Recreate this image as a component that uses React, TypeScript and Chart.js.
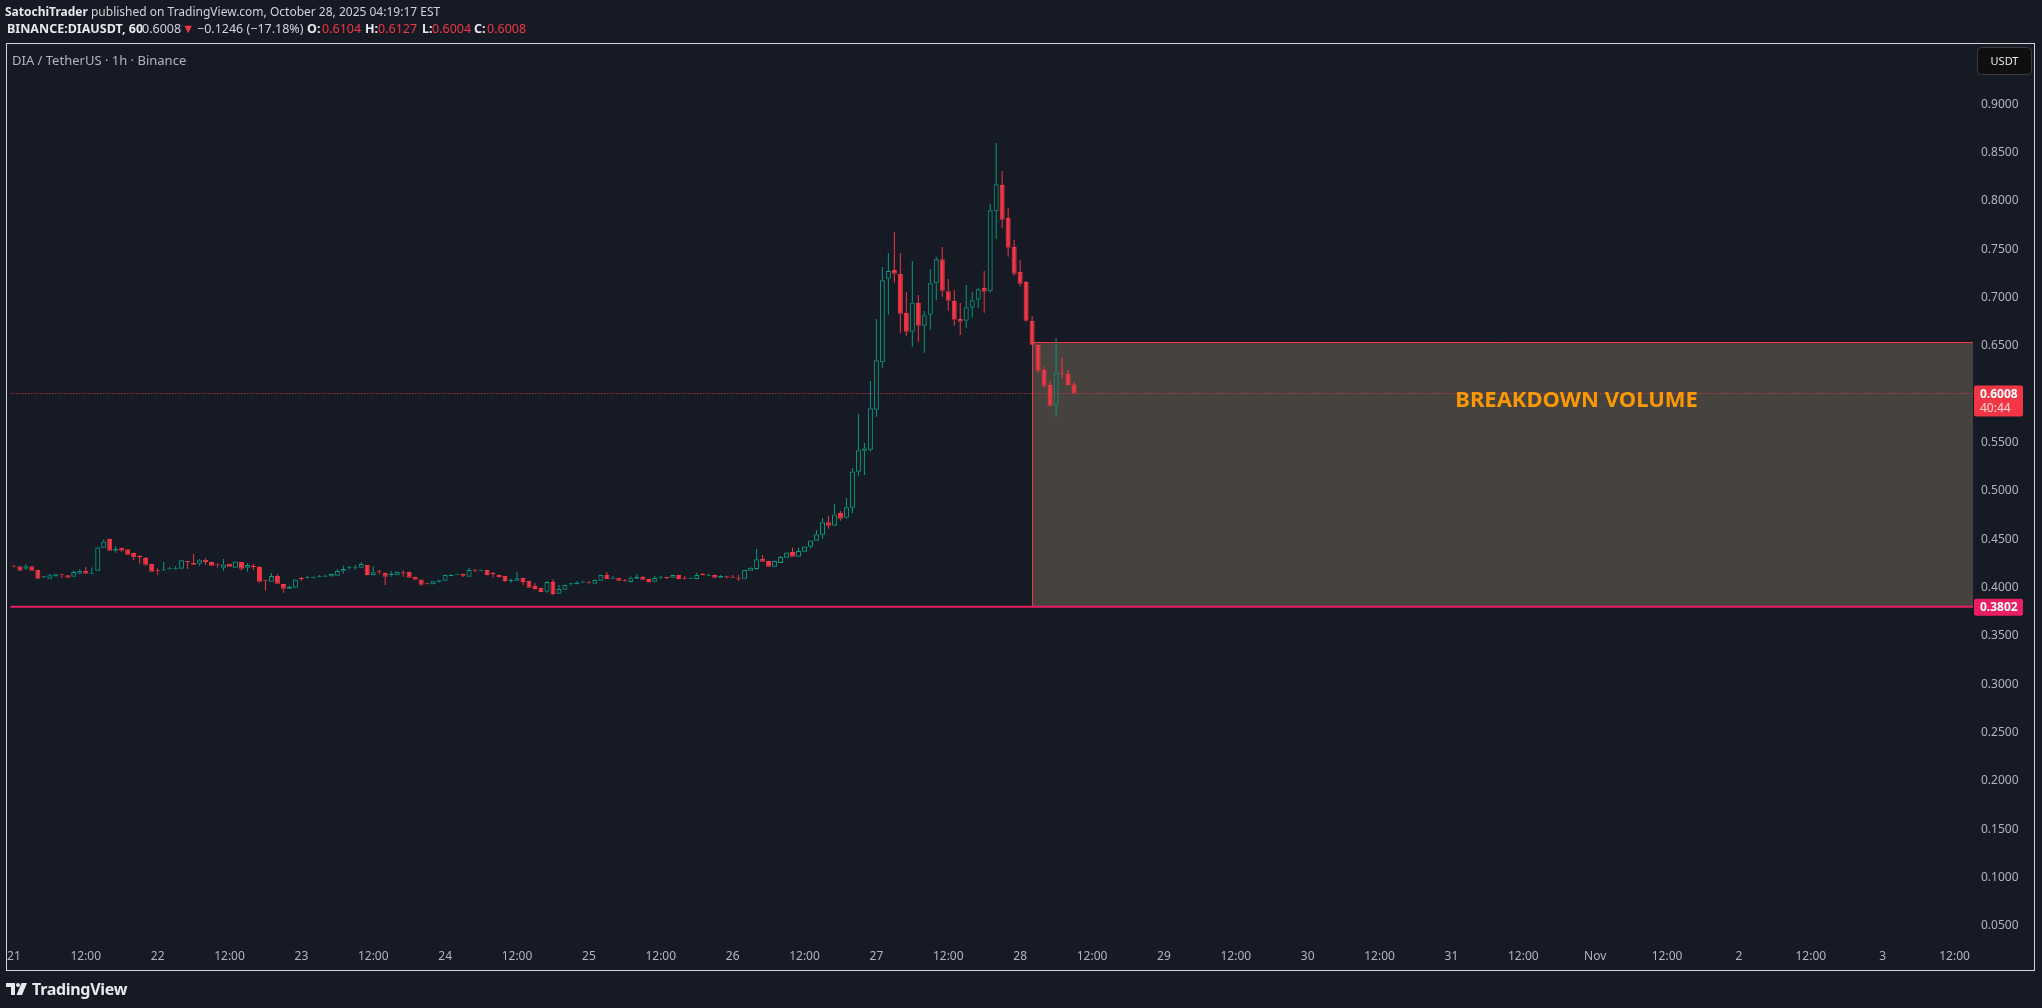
import React, { useEffect, useRef } from 'react';
import { Chart, registerables } from 'chart.js';

Chart.register(...registerables);

// ---- Data: DIA/USDT 1h candles, hour 0 = Oct 21 00:00 (UTC) ----
const opens = [
  0.4221, 0.4220, 0.4196, 0.4220, 0.4182, 0.4106, 0.4092, 0.4116, 0.4137, 0.4127,
  0.4113, 0.4147, 0.4171, 0.4144, 0.4175, 0.4413, 0.4502, 0.4382, 0.4409, 0.4396,
  0.4358, 0.4327, 0.4306, 0.4244, 0.4175, 0.4178, 0.4189, 0.4196, 0.4196, 0.4271,
  0.4254, 0.4247, 0.4289, 0.4265, 0.4237, 0.4206, 0.4247, 0.4206, 0.4265, 0.4206,
  0.4220, 0.4213, 0.4078, 0.4061, 0.4120, 0.4037, 0.3989, 0.3999, 0.4096, 0.4096,
  0.4096, 0.4106, 0.4113, 0.4116, 0.4123, 0.4175, 0.4199, 0.4206, 0.4206, 0.4233,
  0.4127, 0.4165, 0.4151, 0.4127, 0.4127, 0.4158, 0.4161, 0.4109, 0.4085, 0.4040,
  0.4034, 0.4061, 0.4071, 0.4120, 0.4134, 0.4144, 0.4113, 0.4182, 0.4175, 0.4182,
  0.4147, 0.4130, 0.4120, 0.4068, 0.4071, 0.4099, 0.4068, 0.4016, 0.3996, 0.3958,
  0.4058, 0.3937, 0.3978, 0.4034, 0.4034, 0.4054, 0.4051, 0.4040, 0.4071, 0.4130,
  0.4092, 0.4103, 0.4078, 0.4058, 0.4092, 0.4109, 0.4089, 0.4061, 0.4103, 0.4106,
  0.4103, 0.4130, 0.4099, 0.4092, 0.4089, 0.4137, 0.4123, 0.4130, 0.4103, 0.4113,
  0.4109, 0.4099, 0.4092, 0.4175, 0.4192, 0.4296, 0.4275, 0.4216, 0.4254, 0.4309,
  0.4368, 0.4319, 0.4371, 0.4423, 0.4485, 0.4547, 0.4675, 0.4640, 0.4771, 0.4723,
  0.4827, 0.5199, 0.5416, 0.5426, 0.5840, 0.6330, 0.7195, 0.7285, 0.7244, 0.6840,
  0.6647, 0.6944, 0.6709, 0.6823, 0.7147, 0.7395, 0.7064, 0.6964, 0.6778, 0.6761,
  0.6895, 0.6978, 0.7099, 0.7064, 0.7892, 0.8164, 0.7823, 0.7523, 0.7264, 0.7161,
  0.6757, 0.6509, 0.6250, 0.6095, 0.5881, 0.6219, 0.6209, 0.6104,
];
const highs = [
  0.4230, 0.4222, 0.4244, 0.4223, 0.4185, 0.4120, 0.4140, 0.4142, 0.4138, 0.4129,
  0.4178, 0.4189, 0.4213, 0.4209, 0.4423, 0.4499, 0.4504, 0.4427, 0.4411, 0.4398,
  0.4360, 0.4337, 0.4316, 0.4246, 0.4199, 0.4265, 0.4213, 0.4223, 0.4285, 0.4273,
  0.4347, 0.4296, 0.4306, 0.4267, 0.4247, 0.4296, 0.4249, 0.4274, 0.4267, 0.4254,
  0.4244, 0.4223, 0.4080, 0.4151, 0.4137, 0.4039, 0.4023, 0.4088, 0.4113, 0.4120,
  0.4116, 0.4130, 0.4134, 0.4143, 0.4192, 0.4227, 0.4223, 0.4233, 0.4265, 0.4235,
  0.4223, 0.4182, 0.4153, 0.4171, 0.4165, 0.4178, 0.4163, 0.4111, 0.4087, 0.4047,
  0.4067, 0.4077, 0.4133, 0.4140, 0.4145, 0.4146, 0.4202, 0.4192, 0.4185, 0.4184,
  0.4161, 0.4132, 0.4122, 0.4092, 0.4161, 0.4101, 0.4070, 0.4047, 0.3998, 0.4062,
  0.4085, 0.4027, 0.4030, 0.4051, 0.4068, 0.4071, 0.4068, 0.4080, 0.4133, 0.4161,
  0.4120, 0.4105, 0.4089, 0.4116, 0.4140, 0.4120, 0.4091, 0.4120, 0.4123, 0.4108,
  0.4132, 0.4132, 0.4120, 0.4105, 0.4154, 0.4154, 0.4144, 0.4132, 0.4130, 0.4123,
  0.4130, 0.4130, 0.4185, 0.4216, 0.4399, 0.4337, 0.4277, 0.4277, 0.4327, 0.4367,
  0.4412, 0.4412, 0.4428, 0.4490, 0.4596, 0.4720, 0.4740, 0.4864, 0.4792, 0.4926,
  0.5237, 0.5795, 0.5495, 0.6137, 0.6778, 0.7316, 0.7461, 0.7678, 0.7461, 0.7057,
  0.7378, 0.7026, 0.6861, 0.7295, 0.7423, 0.7523, 0.7192, 0.7078, 0.6944, 0.7130,
  0.7057, 0.7102, 0.7275, 0.7968, 0.8599, 0.8309, 0.7926, 0.7595, 0.7388, 0.7170,
  0.6809, 0.6515, 0.6282, 0.6137, 0.6581, 0.6375, 0.6250, 0.6127,
];
const lows = [
  0.4209, 0.4172, 0.4185, 0.4173, 0.4090, 0.4096, 0.4090, 0.4113, 0.4103, 0.4101,
  0.4110, 0.4134, 0.4142, 0.4142, 0.4172, 0.4410, 0.4380, 0.4361, 0.4371, 0.4338,
  0.4282, 0.4247, 0.4227, 0.4163, 0.4134, 0.4175, 0.4187, 0.4185, 0.4194, 0.4192,
  0.4235, 0.4227, 0.4237, 0.4225, 0.4209, 0.4175, 0.4214, 0.4204, 0.4178, 0.4165,
  0.4185, 0.4051, 0.3968, 0.4058, 0.4038, 0.3947, 0.3987, 0.3997, 0.4068, 0.4094,
  0.4094, 0.4104, 0.4111, 0.4114, 0.4121, 0.4144, 0.4185, 0.4185, 0.4204, 0.4128,
  0.4125, 0.4137, 0.4027, 0.4113, 0.4125, 0.4113, 0.4101, 0.4080, 0.4020, 0.4032,
  0.4032, 0.4051, 0.4069, 0.4118, 0.4132, 0.4109, 0.4111, 0.4161, 0.4170, 0.4128,
  0.4103, 0.4107, 0.4058, 0.4047, 0.4069, 0.4027, 0.3997, 0.3983, 0.3952, 0.3947,
  0.3923, 0.3935, 0.3976, 0.4020, 0.4032, 0.4044, 0.4042, 0.4038, 0.4069, 0.4087,
  0.4090, 0.4069, 0.4061, 0.4056, 0.4090, 0.4080, 0.4056, 0.4059, 0.4089, 0.4089,
  0.4101, 0.4087, 0.4085, 0.4090, 0.4087, 0.4128, 0.4121, 0.4101, 0.4101, 0.4092,
  0.4101, 0.4068, 0.4090, 0.4173, 0.4185, 0.4266, 0.4214, 0.4214, 0.4252, 0.4305,
  0.4317, 0.4317, 0.4369, 0.4402, 0.4483, 0.4506, 0.4609, 0.4638, 0.4692, 0.4713,
  0.4768, 0.5157, 0.5164, 0.5405, 0.5768, 0.6275, 0.6823, 0.7154, 0.6630, 0.6606,
  0.6492, 0.6543, 0.6430, 0.6668, 0.6975, 0.7009, 0.6864, 0.6709, 0.6612, 0.6688,
  0.6792, 0.6895, 0.6844, 0.7050, 0.7609, 0.7723, 0.7423, 0.7226, 0.7113, 0.6750,
  0.6505, 0.6223, 0.6068, 0.5870, 0.5768, 0.6161, 0.6090, 0.6004,
];
const closes = [
  0.4218, 0.4175, 0.4220, 0.4175, 0.4092, 0.4110, 0.4127, 0.4137, 0.4134, 0.4103,
  0.4161, 0.4175, 0.4144, 0.4151, 0.4416, 0.4478, 0.4382, 0.4399, 0.4382, 0.4340,
  0.4313, 0.4316, 0.4237, 0.4165, 0.4168, 0.4182, 0.4196, 0.4206, 0.4282, 0.4265,
  0.4237, 0.4282, 0.4265, 0.4227, 0.4230, 0.4240, 0.4216, 0.4271, 0.4196, 0.4233,
  0.4213, 0.4061, 0.4071, 0.4120, 0.4040, 0.3989, 0.4009, 0.4085, 0.4089, 0.4103,
  0.4103, 0.4113, 0.4120, 0.4140, 0.4171, 0.4192, 0.4206, 0.4216, 0.4244, 0.4130,
  0.4158, 0.4158, 0.4113, 0.4147, 0.4161, 0.4147, 0.4103, 0.4082, 0.4030, 0.4034,
  0.4065, 0.4075, 0.4130, 0.4127, 0.4140, 0.4123, 0.4182, 0.4175, 0.4178, 0.4130,
  0.4140, 0.4109, 0.4068, 0.4075, 0.4096, 0.4058, 0.3999, 0.3985, 0.3954, 0.4058,
  0.3934, 0.3985, 0.4027, 0.4040, 0.4054, 0.4061, 0.4044, 0.4078, 0.4130, 0.4089,
  0.4099, 0.4071, 0.4071, 0.4096, 0.4109, 0.4082, 0.4058, 0.4099, 0.4109, 0.4099,
  0.4130, 0.4089, 0.4092, 0.4099, 0.4130, 0.4130, 0.4130, 0.4103, 0.4120, 0.4106,
  0.4103, 0.4092, 0.4182, 0.4206, 0.4292, 0.4268, 0.4216, 0.4275, 0.4316, 0.4364,
  0.4319, 0.4378, 0.4426, 0.4488, 0.4551, 0.4675, 0.4640, 0.4757, 0.4713, 0.4830,
  0.5202, 0.5420, 0.5440, 0.5854, 0.6351, 0.7178, 0.7274, 0.7247, 0.6833, 0.6647,
  0.6950, 0.6709, 0.6816, 0.7147, 0.7395, 0.7071, 0.6968, 0.6771, 0.6750, 0.6899,
  0.6971, 0.7085, 0.7061, 0.7902, 0.8171, 0.7806, 0.7516, 0.7247, 0.7144, 0.6761,
  0.6513, 0.6244, 0.6088, 0.5881, 0.6226, 0.6212, 0.6095, 0.6008,
];
const hours = opens.map((_, i) => i);

const timeTickHours = [0, 12, 24, 36, 48, 60, 72, 84, 96, 108, 120, 132, 144, 156, 168, 180, 192, 204, 216, 228, 240, 252, 264, 276, 288, 300, 312, 324];
const timeTickLabels = ['21', '12:00', '22', '12:00', '23', '12:00', '24', '12:00', '25', '12:00', '26', '12:00', '27', '12:00', '28', '12:00', '29', '12:00', '30', '12:00', '31', '12:00', 'Nov', '12:00', '2', '12:00', '3', '12:00'];
const priceTicks = [0.05, 0.1, 0.15, 0.2, 0.25, 0.3, 0.35, 0.4, 0.45, 0.5, 0.55, 0.6, 0.65, 0.7, 0.75, 0.8, 0.85, 0.9];

const lastPrice = 0.6008;
const countdown = '40:44';
const supportPrice = 0.3802;
const zoneStartHour = 170;
const zoneTop = 0.6537;
const zoneBottom = 0.3802;
const zoneLabel = 'BREAKDOWN VOLUME';
const zoneLabelHour = 260.9;
const zoneLabelPrice = 0.5935;

// ---- Styles ----
const BG = '#161A25';
const UP = '#089981';
const DOWN = '#F23645';
const SUPPORT = '#E91E63';
const ZONE_FILL = '#46433F';
const AXIS_TXT = '#B2B5BE';
const FONT = "'Noto Sans', 'Liberation Sans', sans-serif";

const isUp = (i: number) => closes[i] >= opens[i];

const overlayPlugin = {
  id: 'tvOverlay',
  beforeDraw(chart: any) {
    const { ctx, width, height } = chart;
    ctx.save();
    ctx.fillStyle = BG;
    ctx.fillRect(0, 0, width, height);
    ctx.restore();
  },
  beforeDatasetsDraw(chart: any) {
    const { ctx, chartArea: a, scales } = chart;
    const x0 = Math.round(scales.x.getPixelForValue(zoneStartHour)) + 0.5;
    const yT = Math.round(scales.y.getPixelForValue(zoneTop)) + 0.5;
    const yB = scales.y.getPixelForValue(zoneBottom);
    ctx.save();
    ctx.beginPath();
    ctx.rect(a.left, a.top, a.right - a.left, a.bottom - a.top);
    ctx.clip();
    ctx.fillStyle = ZONE_FILL;
    ctx.fillRect(x0, yT, a.right - x0, yB - yT);
    ctx.strokeStyle = DOWN;
    ctx.lineWidth = 1;
    ctx.beginPath();
    ctx.moveTo(x0, yB);
    ctx.lineTo(x0, yT);
    ctx.lineTo(a.right, yT);
    ctx.stroke();
    // last price dotted line
    const yL = Math.round(scales.y.getPixelForValue(lastPrice)) + 0.5;
    ctx.setLineDash([1, 2]);
    ctx.strokeStyle = DOWN;
    ctx.beginPath();
    ctx.moveTo(a.left, yL);
    ctx.lineTo(a.right, yL);
    ctx.stroke();
    ctx.setLineDash([]);
    // zone label
    ctx.fillStyle = '#FF9800';
    ctx.font = `bold 22px ${FONT}`;
    ctx.textAlign = 'center';
    ctx.textBaseline = 'middle';
    ctx.fillText(zoneLabel, scales.x.getPixelForValue(zoneLabelHour), scales.y.getPixelForValue(zoneLabelPrice));
    ctx.restore();
  },
  afterDatasetsDraw(chart: any) {
    const { ctx, chartArea: a, scales } = chart;
    const yS = scales.y.getPixelForValue(supportPrice);
    ctx.save();
    ctx.strokeStyle = SUPPORT;
    ctx.lineWidth = 2;
    ctx.beginPath();
    ctx.moveTo(a.left, yS);
    ctx.lineTo(a.right, yS);
    ctx.stroke();
    ctx.restore();
  },
  afterDraw(chart: any) {
    const { ctx, chartArea: a, scales } = chart;
    ctx.save();
    const bx = a.right + 1;
    const bw = 49;
    // last price label
    const yL = scales.y.getPixelForValue(lastPrice);
    ctx.fillStyle = DOWN;
    ctx.beginPath();
    (ctx as any).roundRect(bx, yL - 8, bw, 31, 2);
    ctx.fill();
    ctx.fillStyle = '#FFFFFF';
    ctx.font = `bold 12px ${FONT}`;
    ctx.textAlign = 'left';
    ctx.textBaseline = 'middle';
    ctx.fillText(lastPrice.toFixed(4), bx + 6, yL + 1);
    ctx.fillStyle = 'rgba(255,255,255,0.8)';
    ctx.font = `12px ${FONT}`;
    ctx.fillText(countdown, bx + 6, yL + 15);
    // support label
    const yS = scales.y.getPixelForValue(supportPrice);
    ctx.fillStyle = SUPPORT;
    ctx.beginPath();
    (ctx as any).roundRect(bx, yS - 8, bw, 17, 2);
    ctx.fill();
    ctx.fillStyle = '#FFFFFF';
    ctx.font = `bold 12px ${FONT}`;
    ctx.fillText(supportPrice.toFixed(4), bx + 6, yS + 1);
    // USDT button
    ctx.fillStyle = '#0F0F0F';
    ctx.strokeStyle = '#3A3C42';
    ctx.lineWidth = 1;
    ctx.beginPath();
    (ctx as any).roundRect(1977.5, 47.5, 54, 27, 4);
    ctx.fill();
    ctx.stroke();
    ctx.fillStyle = '#E6E8EE';
    ctx.font = `11px ${FONT}`;
    ctx.textAlign = 'center';
    ctx.fillText('USDT', 2004.5, 61.5);
    // frame
    ctx.strokeStyle = '#D1D4DC';
    ctx.lineWidth = 1;
    ctx.strokeRect(6.5, 43.5, 2028, 927);
    ctx.restore();
  },
};

const headerParts: { text: string; left: number; kind: 'bold' | 'plain' | 'red' }[] = [
  { text: 'BINANCE:DIAUSDT, 60', left: 7, kind: 'bold' },
  { text: '0.6008', left: 142, kind: 'plain' },
  { text: '▼', left: 182, kind: 'red' },
  { text: '−0.1246 (−17.18%)', left: 197, kind: 'plain' },
  { text: 'O:', left: 307, kind: 'bold' },
  { text: '0.6104', left: 322, kind: 'red' },
  { text: 'H:', left: 365, kind: 'bold' },
  { text: '0.6127', left: 378, kind: 'red' },
  { text: 'L:', left: 422, kind: 'bold' },
  { text: '0.6004', left: 432, kind: 'red' },
  { text: 'C:', left: 474, kind: 'bold' },
  { text: '0.6008', left: 487, kind: 'red' },
];

export default function App() {
  const canvasRef = useRef<HTMLCanvasElement | null>(null);

  useEffect(() => {
    if (!canvasRef.current) return;
    const bodyData = hours.map((h, i) => ({ x: h, y: [opens[i], closes[i]] }));
    const upperWick = hours.map((h, i) => ({ x: h, y: [Math.max(opens[i], closes[i]), highs[i]] }));
    const lowerWick = hours.map((h, i) => ({ x: h, y: [lows[i], Math.min(opens[i], closes[i])] }));
    const colors = hours.map((_, i) => (isUp(i) ? UP : DOWN));

    const chart = new Chart(canvasRef.current, {
      type: 'bar',
      data: {
        datasets: [
          {
            data: bodyData as any,
            backgroundColor: hours.map((_, i) => (isUp(i) ? 'rgba(0,0,0,0)' : DOWN)),
            borderColor: colors,
            borderWidth: 1,
            borderSkipped: false,
            barThickness: 5,
            minBarLength: 1,
            grouped: false,
            inflateAmount: 0,
          } as any,
          {
            data: upperWick as any,
            backgroundColor: colors,
            borderWidth: 0,
            barThickness: 1,
            grouped: false,
            inflateAmount: 0,
          } as any,
          {
            data: lowerWick as any,
            backgroundColor: colors,
            borderWidth: 0,
            barThickness: 1,
            grouped: false,
            inflateAmount: 0,
          } as any,
        ],
      },
      options: {
        responsive: false,
        animation: false,
        events: [],
        layout: { padding: { left: 7, top: 44, right: 0, bottom: 0 } },
        plugins: { legend: { display: false }, tooltip: { enabled: false } },
        scales: {
          x: {
            type: 'linear',
            offset: false,
            min: -0.58333,
            max: 327.0833,
            grid: { display: false, drawTicks: false },
            border: { display: false },
            afterBuildTicks: (scale: any) => {
              scale.ticks = timeTickHours.map((v) => ({ value: v }));
            },
            afterFit: (scale: any) => {
              scale.height = 66;
            },
            ticks: {
              autoSkip: false,
              maxRotation: 0,
              minRotation: 0,
              padding: 7,
              color: AXIS_TXT,
              font: { family: FONT, size: 12 },
              callback: (_v: any, idx: number) => timeTickLabels[idx],
            },
          },
          y: {
            type: 'linear',
            position: 'right',
            min: 0.03343,
            max: 0.962268,
            grid: { display: false, drawTicks: false },
            border: { display: false },
            afterBuildTicks: (scale: any) => {
              scale.ticks = priceTicks.map((v) => ({ value: v }));
            },
            afterFit: (scale: any) => {
              scale.width = 69;
            },
            ticks: {
              padding: 8,
              color: AXIS_TXT,
              font: { family: FONT, size: 12 },
              callback: (v: any) => Number(v).toFixed(4),
            },
          },
        },
      } as any,
      plugins: [overlayPlugin],
    });
    return () => chart.destroy();
  }, []);

  const styleFor = (kind: string) =>
    kind === 'bold' ? { fontWeight: 700, color: '#E6E8EE' } : kind === 'red' ? { color: DOWN } : { color: '#D1D4DC' };

  return (
    <div style={{ position: 'fixed', left: 0, top: 0, width: 2042, height: 1008, background: BG, overflow: 'hidden', fontFamily: FONT }}>
      <canvas ref={canvasRef} width={2042} height={1008} style={{ position: 'absolute', left: 0, top: 0, width: 2042, height: 1008 }} />
      <div style={{ position: 'absolute', left: 5, top: 3, fontSize: 12, lineHeight: '18px', color: '#D1D4DC', whiteSpace: 'nowrap' }}>
        <span style={{ fontWeight: 700, color: '#E6E8EE' }}>SatochiTrader</span> published on TradingView.com, October 28, 2025 04:19:17 EST
      </div>
      {headerParts.map((p, i) => (
        <span key={i} style={{ position: 'absolute', left: p.left, top: 20, fontSize: 12.5, lineHeight: '18px', whiteSpace: 'nowrap', ...styleFor(p.kind) }}>
          {p.text}
        </span>
      ))}
      <div style={{ position: 'absolute', left: 12, top: 51, fontSize: 13, lineHeight: '18px', color: '#B2B5BE', whiteSpace: 'nowrap' }}>
        DIA / TetherUS · 1h · Binance
      </div>
      <div style={{ position: 'absolute', left: 6, top: 978, height: 22, display: 'flex', alignItems: 'center', color: '#E6E8EE' }}>
        <svg width="22" height="12" viewBox="0 0 22 12" style={{ marginRight: 4 }}>
          <path d="M0 0 H9 V12 H5 V4 H0 Z" fill="#E6E8EE" />
          <circle cx="12" cy="2" r="2" fill="#E6E8EE" />
          <path d="M15.5 0 H21 L16 12 H10.5 Z" fill="#E6E8EE" />
        </svg>
        <span style={{ fontSize: 16, fontWeight: 700, letterSpacing: -0.3 }}>TradingView</span>
      </div>
    </div>
  );
}
